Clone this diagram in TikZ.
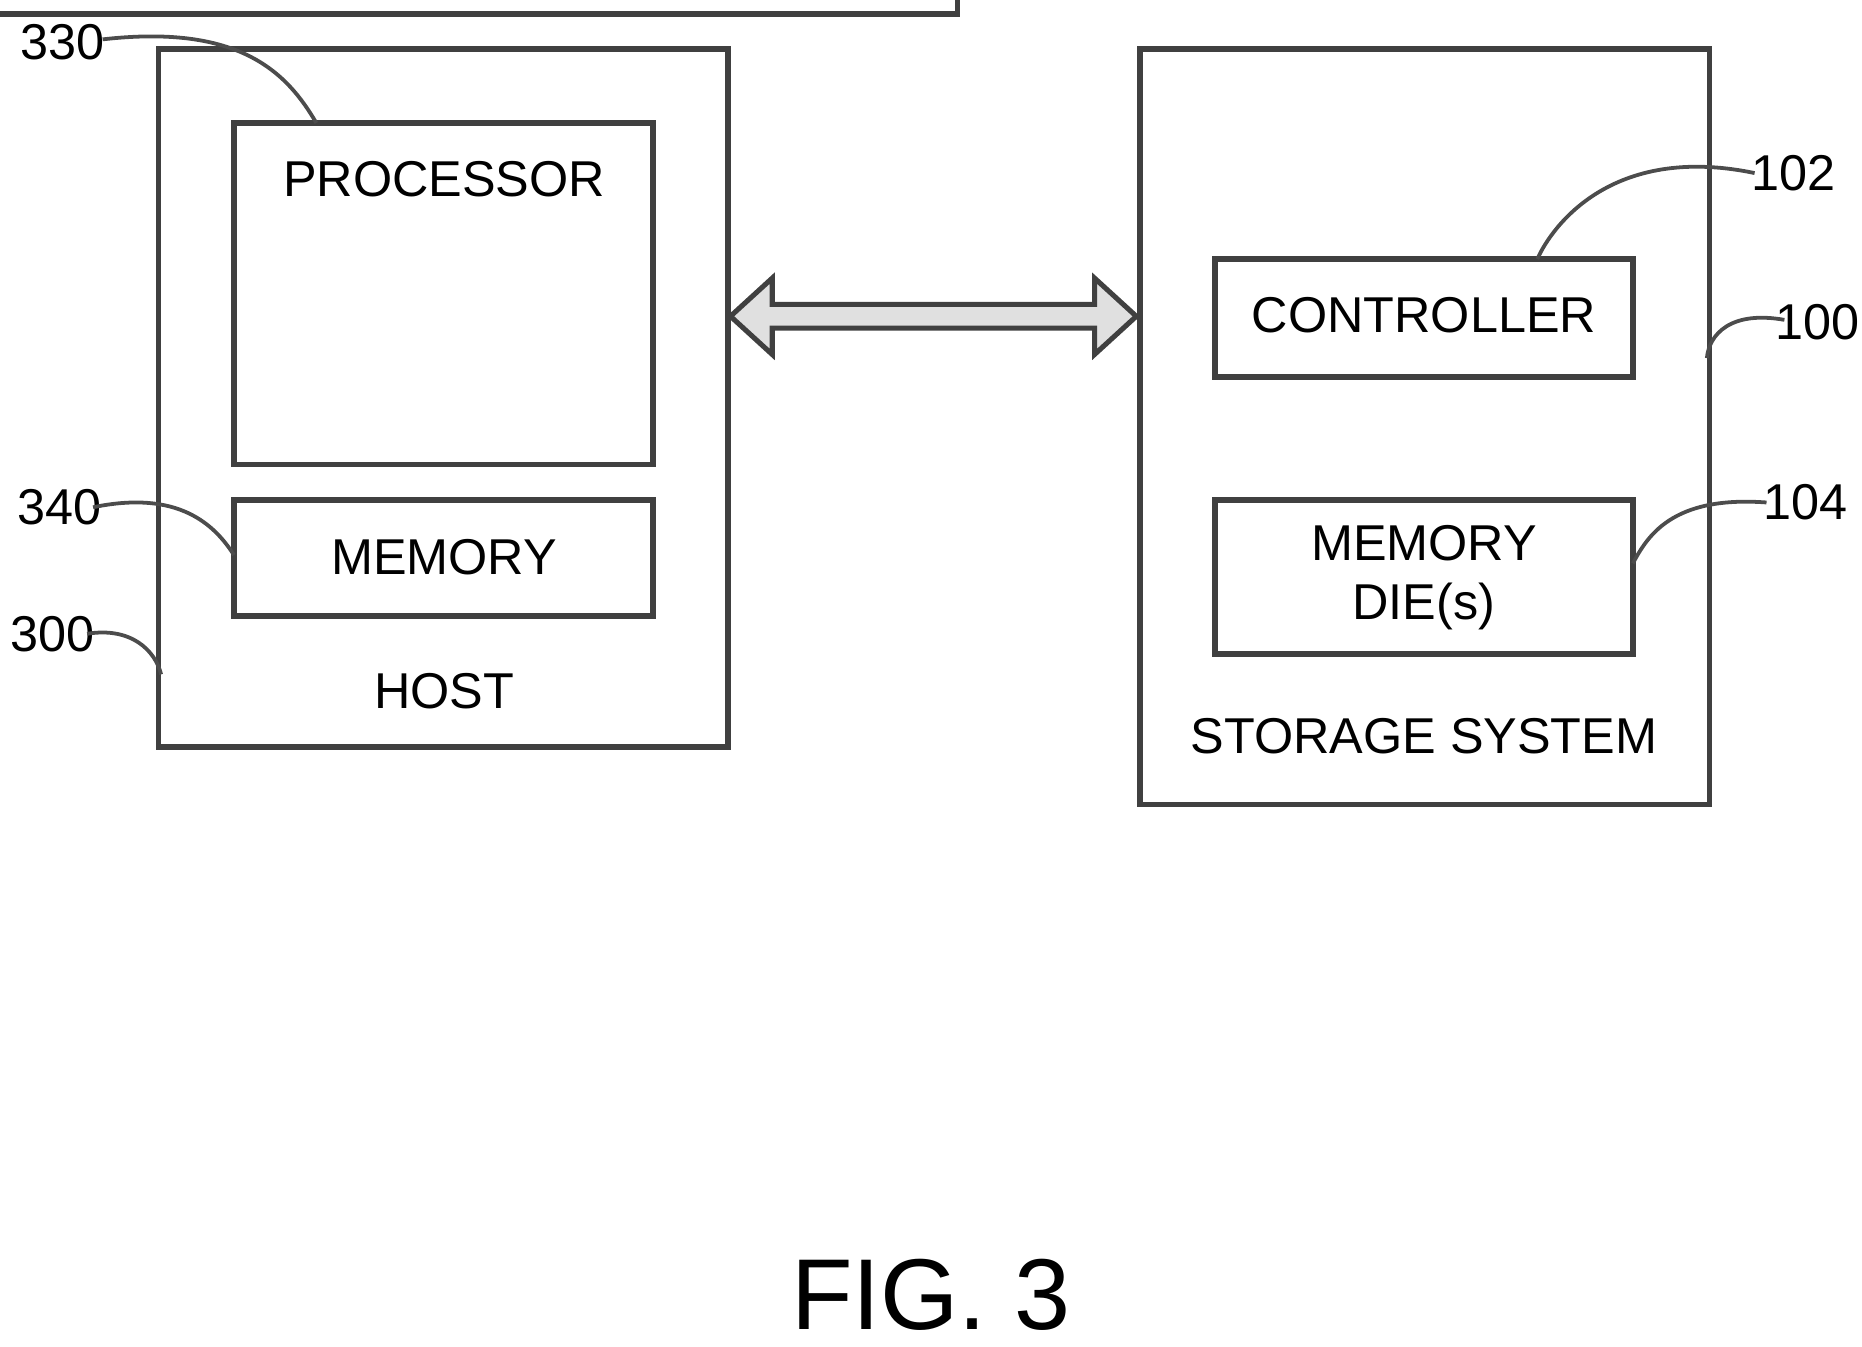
\documentclass[tikz,border=0pt]{standalone}
\usepackage{fontspec}
\setmainfont{Liberation Sans}
\begin{document}
\begin{tikzpicture}[x=0.01cm,y=-0.01cm,
 box/.style={draw=black!75,line width=1.3pt},
 lbl/.style={font=\fontsize{12}{14}\selectfont},
 lead/.style={draw=black!70,line width=0.9pt}]
\useasboundingbox (0,0) rectangle (1560,1128);
\draw[box] (133,41) rectangle (610,626);
\node[box,minimum width=351\pgflinewidth] (proc) at (0,0) {};
\draw[box] (196,103) coordinate (pTL) rectangle (547,389);
\draw[box] (196,419) rectangle (547,516);
\draw[box] (955,41) rectangle (1432,674);
\draw[box] (1018,217) rectangle (1368,316);
\draw[box] (1018,419) rectangle (1368,548);
\node[lbl] at (372,150) {PROCESSOR};
\node[lbl] at (372,467) {MEMORY};
\node[lbl] at (372,579) {HOST};
\node[lbl] at (1193,264) {CONTROLLER};
\node[lbl,align=center] at (1193,484) {MEMORY\\DIE(s)};
\node[lbl] at (1193,617) {STORAGE SYSTEM};
\node[lbl] (n330) at (52,35) {330};
\node[lbl] (n340) at (50,425) {340};
\node[lbl] (n300) at (44,531) {300};
\node[lbl] (n102) at (1503,145) {102};
\node[lbl] (n100) at (1523,270) {100};
\node[lbl] (n104) at (1513,421) {104};
\draw[lead] (86,33) .. controls (200,20) and (240,60) .. (265,103);
\draw[lead] (78,425) .. controls (150,410) and (180,440) .. (196,465);
\draw[lead] (73,531) .. controls (110,525) and (130,545) .. (135,565);
\draw[lead] (1470,145) .. controls (1350,120) and (1300,190) .. (1288,217);
\draw[lead] (1495,268) .. controls (1450,260) and (1432,280) .. (1430,300);
\draw[lead] (1480,421) .. controls (1400,415) and (1380,450) .. (1368,472);
\draw[draw=black!75,fill=black!12,line width=1.2pt]
 (612,265) -- (647,233) -- (647,255) -- (917,255) -- (917,233) -- (952,265)
 -- (917,297) -- (917,275) -- (647,275) -- (647,297) -- cycle;
\node[font=\fontsize{24}{28}\selectfont] at (780,1085) {FIG. 3};
\end{tikzpicture}
\end{document}
